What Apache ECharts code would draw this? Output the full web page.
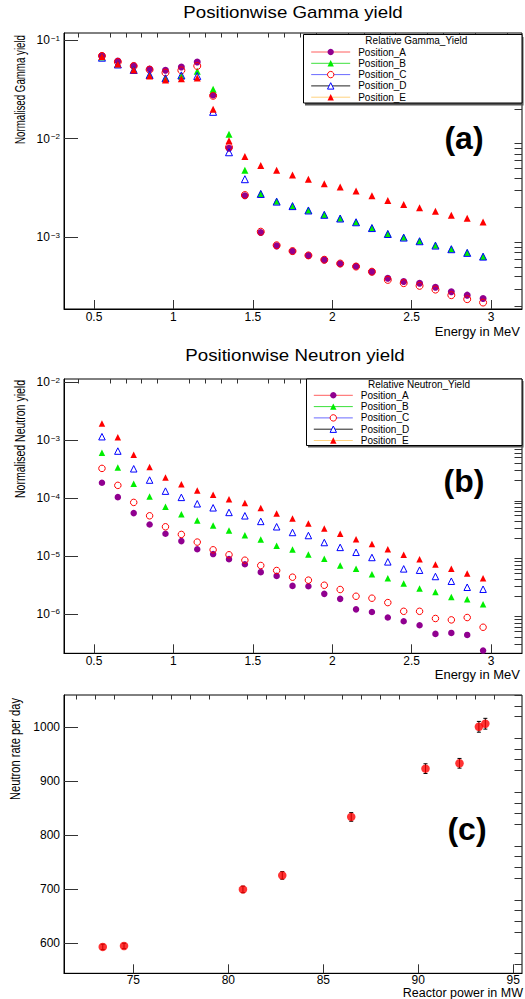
<!DOCTYPE html>
<html>
<head>
<meta charset="utf-8">
<script src="https://cdn.jsdelivr.net/npm/echarts@6/dist/echarts.min.js"></script>
<style>
html,body{margin:0;padding:0;background:#fff;}
#chart{width:525px;height:999px;}
</style>
</head>
<body>
<div id="chart"></div>
<script>
// ---------------- DATA ----------------
const energy = [0.55,0.65,0.75,0.85,0.95,1.05,1.15,1.25,1.35,1.45,1.55,1.65,1.75,1.85,1.95,2.05,2.15,2.25,2.35,2.45,2.55,2.65,2.75,2.85,2.95];
const seriesNames = ['Position_A','Position_B','Position_C','Position_D','Position_E'];

const gammaA = [0.0693,0.0612,0.0549,0.0508,0.0493,0.0532,0.0599,0.0277,0.0080,0.00264,0.00112,0.000819,0.000723,0.000653,0.00059,0.00054,0.000508,0.000446,0.000385,0.000356,0.000342,0.000312,0.00028,0.000259,0.00024];
const gammaB = [0.0672,0.0571,0.0505,0.0442,0.0410,0.0432,0.0482,0.0316,0.0111,0.00478,0.00278,0.00232,0.00208,0.00188,0.00170,0.00156,0.00143,0.00125,0.00109,0.00100,0.000918,0.00083,0.00076,0.00070,0.00064];
const gammaC = [0.0690,0.0600,0.0545,0.0500,0.0467,0.0493,0.0546,0.0272,0.0082,0.00268,0.00114,0.00083,0.000725,0.000655,0.000592,0.000542,0.000505,0.000448,0.00037,0.000343,0.000322,0.000295,0.000259,0.000236,0.000218];
const gammaD = [0.0662,0.0565,0.0497,0.0442,0.0409,0.0438,0.0432,0.0187,0.00728,0.00388,0.00275,0.0023,0.00207,0.00187,0.00169,0.00155,0.00142,0.00124,0.00108,0.000993,0.000912,0.000824,0.000757,0.000695,0.000637];
const gammaE = [0.0680,0.0571,0.0497,0.0432,0.0394,0.0406,0.0412,0.0199,0.00955,0.00658,0.00533,0.00479,0.00429,0.00388,0.0035,0.00324,0.00295,0.00263,0.00236,0.00215,0.00199,0.00184,0.00167,0.00156,0.00143];

const neutronA = [1.84e-4,1.04e-4,5.51e-5,3.51e-5,2.42e-5,1.81e-5,1.31e-5,1.08e-5,8.83e-6,7.22e-6,5.26e-6,4.54e-6,3.05e-6,3.01e-6,2.22e-6,1.82e-6,1.2e-6,1.08e-6,8.67e-7,7.49e-7,6.38e-7,4.52e-7,4.7e-7,4.34e-7,2.33e-7];
const neutronB = [6.07e-4,3.39e-4,1.77e-4,1.07e-4,7.1e-5,5.29e-5,4.12e-5,3.37e-5,2.76e-5,2.29e-5,1.93e-5,1.5e-5,1.3e-5,1.06e-5,8.93e-6,6.86e-6,6.0e-6,4.85e-6,4.14e-6,3.35e-6,2.75e-6,2.4e-6,1.97e-6,1.8e-6,1.47e-6];
const neutronC = [3.26e-4,1.66e-4,8.43e-5,4.95e-5,3.2e-5,2.36e-5,1.74e-5,1.28e-5,1.05e-5,8.47e-6,6.86e-6,5.62e-6,4.31e-6,3.83e-6,3.13e-6,2.64e-6,2.02e-6,1.87e-6,1.57e-6,1.11e-6,1.11e-6,8.34e-7,7.89e-7,8.67e-7,5.89e-7];
const neutronD = [1.15e-3,6.49e-4,3.21e-4,2.05e-4,1.32e-4,1.03e-4,7.98e-5,6.8e-5,5.66e-5,4.95e-5,3.96e-5,3.2e-5,2.55e-5,2.26e-5,1.71e-5,1.41e-5,1.16e-5,9.44e-6,7.93e-6,6.0e-6,5.69e-6,4.43e-6,3.67e-6,2.89e-6,2.67e-6];
const neutronE = [1.95e-3,1.12e-3,5.61e-4,3.43e-4,2.28e-4,1.73e-4,1.36e-4,1.14e-4,9.6e-5,8.2e-5,6.73e-5,5.45e-5,4.46e-5,3.65e-5,2.99e-5,2.42e-5,1.95e-5,1.62e-5,1.31e-5,1.05e-5,8.83e-6,7.14e-6,6.0e-6,4.99e-6,4.14e-6];

const reactorPower = [73.39,74.51,80.77,82.84,86.47,90.38,92.17,93.19,93.53];
const neutronRate = [592.6,594.4,699.3,725.3,833.8,923.4,933.3,1001,1006.7];
const neutronRateErr = [5,5,6,7,8,9,9,10,10];

const energyTicks = [0.5,1,1.5,2,2.5,3];
const gammaTicks = [1e-3,1e-2,1e-1];
const neutronTicks = [1e-6,1e-5,1e-4,1e-3,1e-2];
const powerTicks = [75,80,85,90,95];
const rateTicks = [600,700,800,900,1000];

// ---------------- STYLE ----------------
const FONT = '"Liberation Sans", Arial, Helvetica, sans-serif';
const PURPLE = '#900090', GREEN = '#00ee00', RED = '#ff0000', BLUE = '#0000ff';
const markerStyles = [
  {symbol:'circle', itemStyle:{color:PURPLE}},
  {symbol:'triangle', itemStyle:{color:GREEN}},
  {symbol:'circle', itemStyle:{color:'rgba(0,0,0,0)', borderColor:RED, borderWidth:1}},
  {symbol:'triangle', itemStyle:{color:'rgba(0,0,0,0)', borderColor:BLUE, borderWidth:1}},
  {symbol:'triangle', itemStyle:{color:RED}}
];
const legendLineColors = ['#ff5f5f','#3ce03c','#6a6aff','#222222','#ffd27f'];

const energyRange = [0.311, 3.195];
const gammaRange = [1.875e-4, 0.1178];
const neutronRange = [2.09e-7, 0.0114];
const powerRange = [71.35, 95.46];
const rateRange = [543.7, 1060];

function linMinor(range, step, majorStep) {
  const out = [];
  const k0 = Math.ceil(range[0] / step - 1e-9), k1 = Math.floor(range[1] / step + 1e-9);
  for (let k = k0; k <= k1; k++) {
    const v = +(k * step).toFixed(6);
    const r = v / majorStep;
    if (Math.abs(r - Math.round(r)) > 1e-6) out.push(v);
  }
  return out;
}
function logMinor(range) {
  const out = [];
  const d0 = Math.floor(Math.log10(range[0])), d1 = Math.ceil(Math.log10(range[1]));
  for (let d = d0; d <= d1; d++) {
    for (let m = 2; m <= 9; m++) {
      const v = +(m * Math.pow(10, d)).toPrecision(3);
      if (v >= range[0] && v <= range[1]) out.push(v);
    }
  }
  return out;
}

const grids = [
  {left:64, top:33, width:458, height:276},
  {left:64, top:379, width:458, height:274.3},
  {left:64, top:695, width:458, height:278.3}
];

const axisLine = {show:true, onZero:false, lineStyle:{color:'#000', width:1}};
const tickColor = '#333';

function logLabel(v) {
  const e = Math.round(Math.log10(v));
  return '{b|10}{s|' + (e < 0 ? '\u2212' + (-e) : e) + '}';
}
const logRich = {
  b:{fontSize:12, fontFamily:FONT, color:'#000', lineHeight:12},
  s:{fontSize:8, fontFamily:FONT, color:'#000', verticalAlign:'top', lineHeight:8, padding:[0,0,6,1]}
};

function xMajor(gi, range, ticks, labelMargin) {
  return {
    type:'value', gridIndex:gi, min:range[0], max:range[1],
    axisLine:axisLine,
    axisTick:{show:true, inside:true, length:9, customValues:ticks, lineStyle:{color:tickColor}},
    axisLabel:{customValues:ticks, margin:labelMargin, fontSize:12, lineHeight:12, fontFamily:FONT, color:'#000', formatter:v => String(v)},
    splitLine:{show:false}
  };
}
function xMinor(gi, range, ticks) {
  return {
    type:'value', gridIndex:gi, min:range[0], max:range[1],
    axisLine:{show:false},
    axisTick:{show:true, inside:true, length:4.5, customValues:ticks, lineStyle:{color:tickColor}},
    axisLabel:{show:false}, splitLine:{show:false}
  };
}
function yMajor(gi, type, range, ticks, isLog) {
  const ax = {
    type:type, gridIndex:gi, min:range[0], max:range[1],
    axisLine:axisLine,
    axisTick:{show:true, inside:true, length:14, customValues:ticks, lineStyle:{color:tickColor}},
    axisLabel:{customValues:ticks, margin:4, fontSize:12, fontFamily:FONT, color:'#000', formatter:v => String(v)},
    splitLine:{show:false}
  };
  if (isLog) { ax.logBase = 10; ax.axisLabel.formatter = logLabel; ax.axisLabel.rich = logRich; }
  return ax;
}
function yMinor(gi, type, range, ticks) {
  return {
    type:type, gridIndex:gi, min:range[0], max:range[1],
    axisLine:{show:false},
    axisTick:{show:true, inside:true, length:7.5, customValues:ticks, lineStyle:{color:tickColor}},
    axisLabel:{show:false}, splitLine:{show:false}
  };
}

function pointSeries(vals, idx, xi, yi, size) {
  const m = markerStyles[idx];
  return {
    type:'line', name:seriesNames[idx], xAxisIndex:xi, yAxisIndex:yi,
    data: energy.map((x, i) => [x, vals[i]]),
    symbol:m.symbol, symbolSize:size, showSymbol:true, showAllSymbol:true,
    itemStyle:m.itemStyle,
    lineStyle:{width:0, opacity:0},
    emphasis:{disabled:true}, silent:true, z:2 + idx * 0.01
  };
}

function legendItems() {
  return seriesNames.map((n, i) => {
    const it = {name:n, lineStyle:{color:legendLineColors[i], width:1, opacity:1, type:'solid'}};
    if (i === 2) it.itemStyle = {color:'#ffffff', borderColor:RED, borderWidth:1};
    if (i === 3) it.itemStyle = {color:'#ffffff', borderColor:BLUE, borderWidth:1};
    return it;
  });
}
function legendCfg(left, top) {
  return {
    data:legendItems(), orient:'vertical', left:left, top:top, padding:0,
    itemWidth:39, itemHeight:8, itemGap:0.3, selectedMode:false,
    textStyle:{fontSize:10, lineHeight:11, fontFamily:FONT, color:'#000', padding:[0,0,0,3]},
    z:6
  };
}

const gammaSets = [gammaA, gammaB, gammaC, gammaD, gammaE];
const neutronSets = [neutronA, neutronB, neutronC, neutronD, neutronE];

const series = [];
gammaSets.forEach((s, i) => series.push(pointSeries(s, i, 0, 0, 7)));
neutronSets.forEach((s, i) => series.push(pointSeries(s, i, 2, 2, 6.5)));
series.push({
  type:'custom', name:'err', xAxisIndex:4, yAxisIndex:4,
  data: reactorPower.map((p, i) => [p, neutronRate[i] - neutronRateErr[i], neutronRate[i] + neutronRateErr[i]]),
  encode:{x:0, y:[1,2]},
  renderItem:function (params, api) {
    const x = api.value(0);
    const p1 = api.coord([x, api.value(1)]);
    const p2 = api.coord([x, api.value(2)]);
    const cap = 2;
    const st = {stroke:'#000', lineWidth:1};
    return {type:'group', children:[
      {type:'line', shape:{x1:p1[0], y1:p1[1], x2:p2[0], y2:p2[1]}, style:st},
      {type:'line', shape:{x1:p1[0]-cap, y1:p1[1], x2:p1[0]+cap, y2:p1[1]}, style:st},
      {type:'line', shape:{x1:p2[0]-cap, y1:p2[1], x2:p2[0]+cap, y2:p2[1]}, style:st}
    ]};
  },
  silent:true, z:2
});
series.push({
  type:'scatter', name:'rate', xAxisIndex:4, yAxisIndex:4,
  data: reactorPower.map((p, i) => [p, neutronRate[i]]),
  symbol:'circle', symbolSize:8.5, itemStyle:{color:RED}, silent:true, z:3
});

function txt(o) { return Object.assign({type:'text', silent:true}, o); }

const option = {
  animation:false,
  backgroundColor:'#fff',
  textStyle:{fontFamily:FONT},
  grid: grids.map(g => Object.assign({show:true, borderColor:'#000', borderWidth:1, backgroundColor:'rgba(0,0,0,0)', containLabel:false, outerBoundsMode:'none'}, g)),
  xAxis:[
    xMajor(0, energyRange, energyTicks, 2),
    xMinor(0, energyRange, linMinor(energyRange, 0.1, 0.5)),
    xMajor(1, energyRange, energyTicks, 2),
    xMinor(1, energyRange, linMinor(energyRange, 0.1, 0.5)),
    xMajor(2, powerRange, powerTicks, 1),
    xMinor(2, powerRange, linMinor(powerRange, 1, 5))
  ],
  yAxis:[
    yMajor(0, 'log', gammaRange, gammaTicks, true),
    yMinor(0, 'log', gammaRange, logMinor(gammaRange)),
    yMajor(1, 'log', neutronRange, neutronTicks, true),
    yMinor(1, 'log', neutronRange, logMinor(neutronRange)),
    yMajor(2, 'value', rateRange, rateTicks, false),
    yMinor(2, 'value', rateRange, linMinor(rateRange, 20, 100))
  ],
  legend:[legendCfg(310.7, 46.5), legendCfg(313.3, 389.8)],
  series:series,
  graphic:[
    // legend boxes (with ROOT-like shadow)
    {type:'rect', shape:{x:305, y:37, width:218.5, height:68.5}, style:{fill:'#555'}, z:3, silent:true},
    {type:'rect', shape:{x:303.5, y:34.5, width:218.5, height:68.5}, style:{fill:'#fff', stroke:'#000', lineWidth:1}, z:4, silent:true},
    {type:'rect', shape:{x:308, y:381, width:215.5, height:66.5}, style:{fill:'#555'}, z:3, silent:true},
    {type:'rect', shape:{x:306.5, y:379, width:215.5, height:66.5}, style:{fill:'#fff', stroke:'#000', lineWidth:1}, z:4, silent:true},
    txt({x:416.3, y:40.5, z:5, style:{text:'Relative Gamma_Yield', fontSize:10, fontFamily:FONT, fill:'#000', align:'center', verticalAlign:'middle'}}),
    txt({x:419, y:384, z:5, style:{text:'Relative Neutron_Yield', fontSize:10, fontFamily:FONT, fill:'#000', align:'center', verticalAlign:'middle'}}),
    // titles
    txt({x:293, y:12.5, scaleX:1.17, style:{text:'Positionwise Gamma yield', fontSize:16, fontFamily:FONT, fill:'#000', align:'center', verticalAlign:'middle'}}),
    txt({x:295, y:355, scaleX:1.17, style:{text:'Positionwise Neutron yield', fontSize:16, fontFamily:FONT, fill:'#000', align:'center', verticalAlign:'middle'}}),
    // x-axis titles
    txt({x:520, y:331, style:{text:'Energy in MeV', fontSize:13, lineHeight:11, fontFamily:FONT, fill:'#000', align:'right', verticalAlign:'middle'}}),
    txt({x:520, y:674.5, style:{text:'Energy in MeV', fontSize:13, lineHeight:11, fontFamily:FONT, fill:'#000', align:'right', verticalAlign:'middle'}}),
    txt({x:523, y:993, style:{text:'Reactor power in MW', fontSize:12.5, lineHeight:11, fontFamily:FONT, fill:'#000', align:'right', verticalAlign:'middle'}}),
    // y-axis titles
    txt({x:20, y:35, rotation:Math.PI/2, scaleX:0.694, style:{text:'Normalised Gamma yield', fontSize:14, fontFamily:FONT, fill:'#000', align:'right', verticalAlign:'middle'}}),
    txt({x:20.5, y:380, rotation:Math.PI/2, scaleX:0.751, style:{text:'Normalised Neutron yield', fontSize:14, fontFamily:FONT, fill:'#000', align:'right', verticalAlign:'middle'}}),
    txt({x:15.5, y:698, rotation:Math.PI/2, scaleX:0.795, style:{text:'Neutron rate per day', fontSize:14, fontFamily:FONT, fill:'#000', align:'right', verticalAlign:'middle'}}),
    // panel labels
    txt({x:464, y:137.5, style:{text:'(a)', fontSize:32, fontWeight:'bold', fontFamily:FONT, fill:'#000', align:'center', verticalAlign:'middle'}}),
    txt({x:464, y:481, style:{text:'(b)', fontSize:32, fontWeight:'bold', fontFamily:FONT, fill:'#000', align:'center', verticalAlign:'middle'}}),
    txt({x:467, y:829, style:{text:'(c)', fontSize:32, fontWeight:'bold', fontFamily:FONT, fill:'#000', align:'center', verticalAlign:'middle'}})
  ]
};

const chart = echarts.init(document.getElementById('chart'), null, {renderer:'svg', width:525, height:999});
chart.setOption(option);
</script>
</body>
</html>
